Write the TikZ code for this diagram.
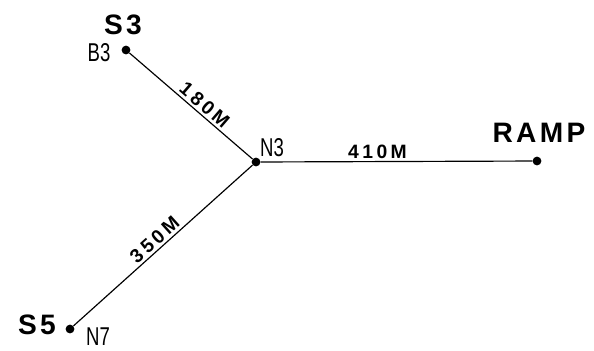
\documentclass[tikz,border=0pt]{standalone}
\usepackage{fontspec}
\setmainfont{Liberation Sans}
\newfontfamily\sitefont[LetterSpace=12]{Liberation Sans Bold}
\newfontfamily\distfont[LetterSpace=18]{Liberation Sans Bold}
\newfontfamily\nodefont{Liberation Sans}
\usetikzlibrary{positioning}

\tikzset{
  dot/.style={circle,fill=black,minimum size=7.5pt,inner sep=0pt},
  site/.style={font=\fontsize{24}{24}\sitefont},
  junction/.style={font=\fontsize{22}{22}\nodefont,xscale=0.72},
  dist/.style={font=\fontsize{16.5}{16.5}\distfont,inner sep=2pt},
  pipe/.style={line width=1pt}
}

\begin{document}
\begin{tikzpicture}[x=0.03cm,y=-0.03cm]
	\useasboundingbox (0,0) rectangle (594,350);
	% points of the network
	\node[dot] (b3) at (126,50){};
	\node[dot] (n3) at (256,162){};
	\node[dot] (ramp) at (537,161){};
	\node[dot] (n7) at (70,329){};
	% names
	\node[site] (s3lbl) at (123,25){S3};
	\node[site] (ramplbl) at (539,133){RAMP};
	\node[site] (s5lbl) at (37,325){S5};
	\node[junction] (b3lbl) at (99,53){B3};
	\node[junction] (n3lbl) at (272,148){N3};
	\node[junction] (n7lbl) at (98,337){N7};
	% pipes
	\draw[pipe] (b3) -- node[dist,sloped,above,pos=0.56]{180M} (n3);
	\draw[pipe] (n3) -- node[dist,above,pos=0.43]{410M} (ramp);
	\draw[pipe] (n7) -- node[dist,sloped,above,pos=0.49]{350M} (n3);
\end{tikzpicture}
\end{document}
